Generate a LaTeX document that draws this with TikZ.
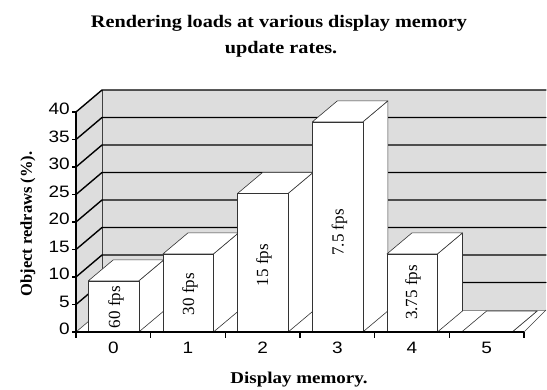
\documentclass[tikz,border=0pt]{standalone}
\usepackage{fontspec}
\setmainfont{Liberation Serif}
\newfontfamily\axisfont{Liberation Sans}
\definecolor{wallgray}{HTML}{DDDDDD}
\begin{document}
\begin{tikzpicture}[x=1pt,y=-1pt,
  gridline/.style={line width=1.4pt, line cap=round},
  thinedge/.style={draw=black!75, line width=0.6pt},
  barface/.style={fill=white, draw=black!80, line width=0.6pt, line join=round},
  ticklab/.style={font=\axisfont\fontsize{16.5}{16.5}\selectfont, xscale=1.15, inner sep=0pt},
  barlab/.style={font=\fontsize{17}{17}\selectfont, rotate=90, inner sep=0pt},
  titlefont/.style={font=\bfseries\fontsize{17.6}{26}\selectfont, xscale=1.15, inner sep=0pt},
  axtitle/.style={font=\bfseries\fontsize{16.5}{16.5}\selectfont, inner sep=0pt}]
\useasboundingbox (0,0) rectangle (547,390);
% back wall and left wall
\fill[wallgray] (102,90) rectangle (546,310);
\fill[wallgray] (76,112) -- (102,90) -- (102,310) -- (76,332) -- cycle;
\draw[thinedge] (102,90) -- (102,310);
\draw[draw=black!45, line width=0.4pt] (102,310) -- (546,310);
\draw[thinedge] (76,332) -- (102,310);
\draw[thinedge] (524,332) -- (546,310);
% gridlines
\foreach \v in {5,10,...,40}{
  \draw[gridline] (76,{332-5.5*\v}) -- (102,{310-5.5*\v}) -- (546,{310-5.5*\v});
  \draw[line width=1.2pt] (72,{332-5.5*\v}) -- (76,{332-5.5*\v});
}
\draw[line width=1.2pt] (72,332) -- (76,332);
\draw[gridline] (76,112) -- (76,332);
% bars
\foreach \i/\val in {0/9.3,1/14.2,2/25.2,3/38.2,4/14.2,5/0}{
  \pgfmathsetmacro{\L}{76+74.667*\i+12.3}
  \pgfmathsetmacro{\R}{\L+50.5}
  \pgfmathsetmacro{\T}{332-5.5*\val}
  \draw[barface] (\R,332) -- (\R+25,311) -- (\R+25,\T-21) -- (\R,\T) -- cycle;
  \draw[barface] (\L,\T) -- (\L+25,\T-21) -- (\R+25,\T-21) -- (\R,\T) -- cycle;
  \ifdim\val pt>0pt
    \draw[barface] (\L,\T) rectangle (\R,332);
  \fi
}
% x axis
\draw[gridline, line cap=butt] (76,332) -- (524,332);
\foreach \i in {0,...,6}{
  \draw[line width=1.2pt] ({76+74.667*\i},332) -- ({76+74.667*\i},338);
}
% y tick labels
\foreach \v in {0,5,...,40}{
  \node[ticklab, anchor=east] (yl\v) at (70,{332-5.5*\v-3}) {\v};
}
% x tick labels
\foreach \i in {0,...,5}{
  \node[ticklab] (xl\i) at ({76+74.667*\i+37.33},348) {\i};
}
% bar labels
\begin{scope}
  \clip (88.3,281) rectangle (138.8,332);
  \node[barlab] (b0) at (116,307) {60 fps};
\end{scope}
\node[barlab] (b1) at (190,294) {30 fps};
\node[barlab] (b2) at (264,265) {15 fps};
\node[barlab] (b3) at (339.5,232.5) {7.5 fps};
\node[barlab] (b4) at (413,292.5) {3.75 fps};
% titles
\node[titlefont, anchor=base] (title1) at (279,27.7) {Rendering loads at various display memory};
\node[titlefont, anchor=base] (title2) at (281,53.5) {update rates.};
\node[axtitle, rotate=90] (ytitle) at (28,224) {Object redraws (\%).};
\node[axtitle, xscale=1.15, anchor=base] (xtitle) at (299,384) {Display memory.};
\end{tikzpicture}
\end{document}
